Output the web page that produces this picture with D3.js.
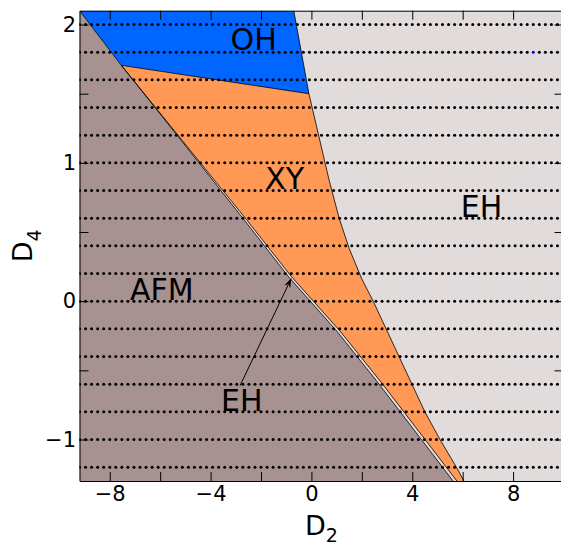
<!DOCTYPE html>
<html><head><meta charset="utf-8">
<script src="https://cdn.jsdelivr.net/npm/d3@7"></script>
<style>body{margin:0;background:#fff}svg{display:block}text{font-family:"DejaVu Sans",sans-serif}</style>
</head><body><svg id="c" width="561" height="546"></svg>
<script>
// ---- data (D2, D4) ----
const xDomain = [-9.2, 10];
const yDomain = [-1.3, 2.1];
const xTickValues = [-8, -6, -4, -2, 0, 2, 4, 6, 8];
const xTickLabelled = [-8, -4, 0, 4, 8];
const yTickValues = [-1, -0.5, 0, 0.5, 1, 1.5, 2];
const yTickLabelled = [-1, 0, 1, 2];
// AFM / (EH sliver) boundary
const afmBoundary = [[-9.2, 2.1], [-7.54, 1.705], [-5.2, 1.17], [-2.7, 0.595], [-0.9, 0.175], [1.0, -0.215], [2.6, -0.58], [5.62, -1.3]];
// EH sliver / XY boundary
const sliverRight = [[-7.54, 1.705], [-5.16, 1.17], [-2.6, 0.595], [-0.78, 0.175], [1.13, -0.215], [2.74, -0.58], [5.77, -1.3]];
// XY / EH (right) boundary
const xyRightBoundary = [[-0.1, 1.5], [0.7, 0.876], [1.1, 0.6], [1.5, 0.38], [2.0, 0.16], [2.45, 0.0], [4.5, -0.8], [5.1, -1.0], [5.75, -1.2], [6.05, -1.3]];
// OH / EH boundary
const ohRightBoundary = [[-0.7, 2.1], [-0.1, 1.5]];
// OH / XY boundary
const ohXyBoundary = [[-7.54, 1.705], [-0.1, 1.5]];
// sampled points (dotted rows)
const dotRowsD4 = [-1.2, -1.0, -0.8, -0.6, -0.4, -0.2, 0.0, 0.2, 0.4, 0.6, 0.8, 1.0, 1.2, 1.4, 1.6, 1.8, 2.0];
const dotColsD2 = d3.range(0, 81).map(i => +(-9.2 + 0.24 * i).toFixed(2));
const blueDot = [8.8, 1.8];
const regionLabels = [
  {text: "OH", d2: -2.29, d4: 1.893},
  {text: "XY", d2: -1.06, d4: 0.89},
  {text: "EH", d2: 6.75, d4: 0.685},
  {text: "AFM", d2: -5.93, d4: 0.085},
  {text: "EH", d2: -2.76, d4: -0.717}
];
const arrowTail = [-2.83, -0.61];
const arrowHead = [-0.79, 0.168];

const colors = {EH: "#e1dbdb", AFM: "#a89191", XY: "#ff9955", OH: "#0066ff"};

// ---- layout ----
const L = 79.5, R = 563.5, T = 10.7, B = 481;
const svg = d3.select("#c");
const x = d3.scaleLinear().domain(xDomain).range([L, R]);
const y = d3.scaleLinear().domain(yDomain).range([B, T]);
const line = d3.line().x(d => x(d[0])).y(d => y(d[1]));

const clip = svg.append("defs").append("clipPath").attr("id", "pc");
clip.append("rect").attr("x", L).attr("y", T).attr("width", R - L).attr("height", B - T);
const g = svg.append("g").attr("clip-path", "url(#pc)");

// background EH
g.append("rect").attr("x", L).attr("y", T).attr("width", R - L).attr("height", B - T).attr("fill", colors.EH);

// AFM polygon
const afmPoly = afmBoundary.concat([[xDomain[0], yDomain[0]]]);
g.append("path").attr("d", line(afmPoly) + "Z").attr("fill", colors.AFM);

// XY polygon
const xyPoly = ohXyBoundary.concat(xyRightBoundary.slice(1)).concat(sliverRight.slice().reverse());
g.append("path").attr("d", line(xyPoly) + "Z").attr("fill", colors.XY);

// OH polygon
const ohPoly = [[xDomain[0], yDomain[1]]].concat(ohRightBoundary).concat([ohXyBoundary[0]]).concat(afmBoundary.slice(0, 2).reverse());
g.append("path").attr("d", line(ohPoly) + "Z").attr("fill", colors.OH);

// boundaries
const bl = [afmBoundary, sliverRight, xyRightBoundary, ohRightBoundary, ohXyBoundary];
bl.forEach(b => g.append("path").attr("d", line(b)).attr("fill", "none").attr("stroke", "#000").attr("stroke-width", 0.8));

// dots
const dots = [];
dotRowsD4.forEach(r => dotColsD2.forEach(c => dots.push([c, r])));
g.append("g").selectAll("circle").data(dots).join("circle")
  .attr("cx", d => x(d[0])).attr("cy", d => y(d[1])).attr("r", 1.5)
  .attr("fill", d => (Math.abs(d[0] - blueDot[0]) < 1e-6 && Math.abs(d[1] - blueDot[1]) < 1e-6) ? "#0000ff" : "#000");

// region labels
g.append("g").selectAll("text").data(regionLabels).join("text")
  .attr("x", d => x(d.d2)).attr("y", d => y(d.d4)).attr("dy", "0.36em")
  .attr("text-anchor", "middle").attr("font-size", 30).attr("fill", "#000")
  .text(d => d.text);

// arrow
{
  const x0 = x(arrowTail[0]), y0 = y(arrowTail[1]), x1 = x(arrowHead[0]), y1 = y(arrowHead[1]);
  const ang = Math.atan2(y1 - y0, x1 - x0);
  const len = 10, hw = 3.2;
  const bx = x1 - len * Math.cos(ang), by = y1 - len * Math.sin(ang);
  g.append("line").attr("x1", x0).attr("y1", y0).attr("x2", bx + 2 * Math.cos(ang)).attr("y2", by + 2 * Math.sin(ang))
    .attr("stroke", "#000").attr("stroke-width", 1);
  const px = -Math.sin(ang), py = Math.cos(ang);
  g.append("path").attr("d", `M${x1},${y1}L${bx + hw * px},${by + hw * py}L${bx + 3 * Math.cos(ang)},${by + 3 * Math.sin(ang)}L${bx - hw * px},${by - hw * py}Z`)
    .attr("fill", "#000");
}

// axes
const fmt = d3.format("");
const styleAxis = sel => {
  sel.select(".domain").attr("stroke", "#000").attr("stroke-width", 1);
  sel.selectAll(".tick line").attr("stroke", "#000").attr("stroke-width", 1);
  sel.selectAll(".tick text").attr("font-family", "DejaVu Sans").attr("font-size", 21).attr("fill", "#000");
};
svg.append("g").attr("transform", `translate(0,${B})`)
  .call(d3.axisBottom(x).tickValues(xTickValues).tickSizeInner(-9).tickSizeOuter(0).tickPadding(5)
    .tickFormat(d => xTickLabelled.includes(d) ? fmt(d) : ""))
  .call(styleAxis);
svg.append("g").attr("transform", `translate(0,${T})`)
  .call(d3.axisTop(x).tickValues(xTickValues).tickSizeInner(-9).tickSizeOuter(0).tickFormat(""))
  .call(styleAxis);
svg.append("g").attr("transform", `translate(${L},0)`)
  .call(d3.axisLeft(y).tickValues(yTickValues).tickSizeInner(-9).tickSizeOuter(0).tickPadding(3.5)
    .tickFormat(d => yTickLabelled.includes(d) ? fmt(d) : ""))
  .call(styleAxis);
svg.append("g").attr("transform", `translate(${R},0)`)
  .call(d3.axisRight(y).tickValues(yTickValues).tickSizeInner(-9).tickSizeOuter(0).tickFormat(""))
  .call(styleAxis);

// axis labels
const xl = svg.append("text").attr("x", (L + R) / 2).attr("y", 535).attr("text-anchor", "middle").attr("font-size", 27);
xl.append("tspan").text("D");
xl.append("tspan").attr("font-size", 19).attr("dy", 7).text("2");
const yl = svg.append("text").attr("transform", `translate(31.5,${(T + B) / 2}) rotate(-90)`).attr("text-anchor", "middle").attr("font-size", 27);
yl.append("tspan").text("D");
yl.append("tspan").attr("font-size", 19).attr("dy", 9).text("4");
</script></body></html>
